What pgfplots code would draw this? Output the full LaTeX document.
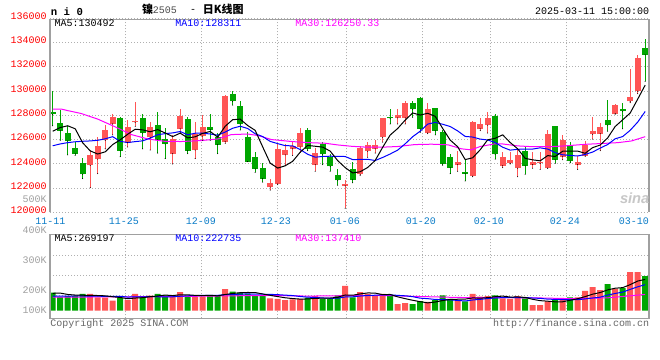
\documentclass[border=0pt]{standalone}
\usepackage{fontspec}
\setmainfont{Liberation Sans}
\newfontfamily\mono{Liberation Mono}
\newfontfamily\cjk{Noto Sans CJK SC}
\usepackage{pgfplots}
\usepackage{pgfplotstable}
\pgfplotsset{compat=1.18}
\definecolor{cred}{HTML}{FF5555}
\definecolor{cgreen}{HTML}{00A600}
\definecolor{gridc}{HTML}{B0B0B0}
\definecolor{framec}{HTML}{A0A0A0}
\definecolor{datec}{HTML}{0A7CC8}
\definecolor{volc}{HTML}{A0A0A0}
\definecolor{mablue}{HTML}{0000FF}
\definecolor{mamag}{HTML}{FF00FF}
\newcommand\sz{\fontsize{7.5pt}{9pt}\selectfont}

\pgfplotstableread{
x O H L C
5 123880 125150 122050 124750
6 124400 126250 123200 125450
7 125950 127200 125250 126800
8 127300 128150 126400 127850
10 125750 127600 125400 127050
11 127420 129100 127100 127520
13 126200 127500 125150 127050
16 124850 126400 124000 126050
17 126900 128500 126600 127950
19 125150 127500 124450 126450
20 126300 128050 125950 127070
23 125850 129650 125700 129600
29 122100 122800 121850 122450
30 122350 125650 122300 125250
31 124750 125650 123900 125150
32 125250 125850 124700 125450
33 125400 127000 124950 126550
35 123950 125300 123400 124900
39 122200 122650 120350 122350
41 123150 125500 123050 125300
42 125050 125800 124550 125550
43 125250 126000 124900 125550
44 126200 127800 125800 127780
46 127800 128500 127300 128000
47 127800 129200 127300 129000
50 126550 129000 126500 128500
54 123950 125100 123400 124150
56 123000 127550 122950 127500
57 126900 127750 126750 127300
58 127200 128250 126550 127800
60 123850 124950 123700 124600
61 124050 124950 124000 124350
62 123650 125350 122950 124700
64 123950 124950 123650 124200
65 124050 125000 123550 124200
66 123650 126800 123650 126500
68 124600 126400 124350 126000
70 123950 124650 123550 124200
71 124650 125900 124650 125600
72 126450 127850 126050 126700
73 126500 127400 125100 127050
75 128150 128980 128100 128900
77 129150 131800 129050 129500
78 130000 133000 129800 132750
}\upT

\pgfplotstableread{
x O H L C
0 128300 130000 127150 128080
1 127350 128450 125950 126750
2 126550 127150 124750 125900
3 125300 125850 124700 124850
4 124050 124500 122800 123150
9 127800 127850 124600 125100
12 127800 128100 125250 126550
14 127200 128250 124900 126000
15 126050 127000 124450 125650
18 127700 127850 124850 125100
21 127070 128100 125950 126830
22 126250 126550 124850 125600
24 129780 130020 128850 129150
25 128800 129200 126800 127300
26 126250 126600 124200 124200
27 124600 124950 123300 123600
28 123700 124100 122500 122800
34 126800 127000 125100 125250
36 125650 125800 123950 124800
37 124550 124850 123400 123800
38 123050 123600 122250 122650
40 123550 124150 122450 122700
45 127900 128500 127300 127750
48 129050 129150 127850 128500
49 129400 129500 126600 126900
51 128600 128650 126400 126750
52 126600 126800 123900 124000
53 124600 124850 123200 123700
55 123350 124300 122600 123200
59 127950 128100 124400 124800
63 125100 125500 123150 123850
67 127100 127100 124050 124350
69 125550 125800 124100 124250
74 127650 129250 126700 127200
76 128550 129050 126900 128350
79 133600 134300 130800 133000
}\downT

\pgfplotsset{sinabase/.style={
  scale only axis, width=449.25pt, anchor=south west,
  xmin=-0.36, xmax=79.51,
  axis line style={draw=none},
  major tick length=0pt,
  scaled y ticks=false,
  grid style={gridc, line width=0.75pt, dash pattern=on 0.75pt off 1.5pt},
  extra x ticks={9.73,19.87,29.91,39.2,49.33,58.4,68.53},
  extra x tick labels={},
  extra x tick style={grid=major},
},
candle/.style={only marks, mark=*, mark size=0.1pt, mark options={draw=none, fill=none}, forget plot,
  error bars/.cd, y dir=plus, y explicit, error mark=none,
  error bar style={#1}}
}

\begin{document}
\begin{tikzpicture}
\useasboundingbox (0,0) rectangle (495pt,270pt);
\fill[white] (0,0) rectangle (495pt,270pt);

% ---------- price panel ----------
\begin{axis}[sinabase, at={(37.5pt,110.625pt)}, height=145.575pt,
  ymin=120000, ymax=136000,
  ytick={120000,122000,124000,126000,128000,130000,132000,134000,136000},
  yticklabels={120000,122000,124000,126000,128000,130000,132000,134000,136000},
  ymajorgrids,
  xtick={-0.3,9.5,19.77,29.77,38.97,49.1,58.17,68.3,77.5},
  xticklabels={11-11,11-25,12-09,12-23,01-06,01-20,02-10,02-24,03-10},
  xticklabel style={font=\mono\sz, text=datec, anchor=north, inner sep=0pt, yshift=-4pt},
  yticklabel style={font=\mono\sz, text=red, anchor=east, inner sep=0pt, xshift=-2.25pt, yshift=1.7pt},
]
% wicks
\addplot[candle={cred, line width=0.75pt}]
  table[x=x, y=L, y error plus expr={\thisrow{H}-\thisrow{L}}] {\upT};
\addplot[candle={cgreen, line width=0.75pt}]
  table[x=x, y=L, y error plus expr={\thisrow{H}-\thisrow{L}}] {\downT};
% bodies
\addplot[candle={cred, line width=4.3pt}]
  table[x=x, y=O, y error plus expr={\thisrow{C}-\thisrow{O}}] {\upT};
\addplot[candle={cgreen, line width=4.3pt}]
  table[x=x, y=C, y error plus expr={\thisrow{O}-\thisrow{C}}] {\downT};
% MA30
\addplot[mamag, line width=0.75pt, mark=none] coordinates {
(0,128520) (1.2,128520) (2,128400) (3.8,128160) (6,127700) (8.3,127070) (10.5,126420)
(12.7,126060) (14.9,125870) (17.1,125850) (19.8,125930) (22,126060) (23.8,126420)
(26,126470) (27.4,126340) (29.2,126010) (31.9,125850) (34,125760) (36.3,125710)
(38,125570) (39.8,125460) (42,125380) (43.8,125380) (46,125440) (48.3,125600)
(50.5,125630) (52.7,125580) (54.5,125250) (55.8,125160) (57,125440) (58.9,125650)
(60,125650) (62,125490) (63.8,125430) (66.5,125430) (68.3,125490) (71,125620)
(73.6,125700) (75.4,125760) (77.2,125900) (79,126250)};
% MA10
\addplot[mablue, line width=0.75pt, mark=none] coordinates {
(0,125500) (1,125650) (2,125760) (3,125830) (4,125870) (5,125900) (6,125950) (7,126075) (8,126250)
(9,125868) (10,125765) (11,125842) (12,125907) (13,126127) (14,126412) (15,126502) (16,126562)
(17,126677) (18,126402) (19,126537) (20,126539) (21,126470) (22,126375) (23,126630) (24,126945)
(25,127110) (26,126925) (27,126490) (28,126260) (29,125860) (30,125678) (31,125510) (32,125495)
(33,125190) (34,124800) (35,124560) (36,124620) (37,124640) (38,124625) (39,124615) (40,124360)
(41,124375) (42,124385) (43,124285) (44,124538) (45,124823) (46,125143) (47,125663) (48,126248)
(49,126703) (50,127283) (51,127428) (52,127273) (53,127088) (54,126725) (55,126270) (56,126220)
(57,126050) (58,125980) (59,125770) (60,125380) (61,125140) (62,125210) (63,125225) (64,125230)
(65,125330) (66,125230) (67,124935) (68,124755) (69,124700) (70,124660) (71,124785) (72,124985)
(73,125305) (74,125605) (75,126075) (76,126260) (77,126775) (78,127450) (79,128325)};
% MA5
\addplot[black, line width=0.75pt, mark=none] coordinates {
(0,126700) (1,127000) (2,127150) (3,126900) (4,125746) (5,125080) (6,124820) (7,125000)
(8,125600) (9,125990) (10,126450) (11,126864) (12,126814) (13,126654) (14,126834) (15,126554)
(16,126260) (17,126540) (18,126150) (19,126240) (20,126524) (21,126680) (22,126210) (23,127110)
(24,127650) (25,127696) (26,127170) (27,126770) (28,125410) (29,124070) (30,123660) (31,123850)
(32,124220) (33,124970) (34,125530) (35,125460) (36,125390) (37,125060) (38,124280) (39,123700)
(40,123260) (41,123360) (42,123710) (43,124290) (44,125376) (45,126386) (46,126926) (47,127616)
(48,128206) (49,128030) (50,128180) (51,127930) (52,126930) (53,125970) (54,125420) (55,124360)
(56,124510) (57,125170) (58,125990) (59,126120) (60,126400) (61,125770) (62,125250) (63,124460)
(64,124340) (65,124260) (66,124690) (67,124620) (68,125050) (69,125060) (70,125060) (71,124880)
(72,125350) (73,125560) (74,126150) (75,127090) (76,127640) (77,128200) (78,129340) (79,130500)};
\end{axis}

% ---------- volume panel ----------
\begin{axis}[sinabase, at={(37.5pt,31.275pt)}, height=63pt,
  ymin=-65.5, ymax=658.6,
  ytick={6,176,431}, yticklabels={100K,200K,300K},
  yticklabel style={font=\mono\sz, text=volc, anchor=east, inner sep=0pt, xshift=-2.25pt},
  xtick=\empty,
  extra y ticks={133,305,480}, extra y tick labels={},
  extra y tick style={grid=major},
]
\addplot[ybar, bar width=4.5pt, bar shift=0pt, fill=cred, draw=none] coordinates {
(5,144) (6,115) (7,112) (8,86) (10,92) (11,144) (13,129) (16,121) (17,161) (19,121) (20,121)
(23,187) (29,106) (30,101) (31,92) (32,98) (33,103) (35,126) (39,213) (41,161) (42,144) (43,126)
(44,144) (46,57) (47,66) (50,75) (54,92) (56,144) (57,121) (58,126) (60,106) (61,103) (62,126)
(64,49) (65,49) (66,80) (68,109) (70,115) (71,170) (72,204) (73,178) (75,187) (77,333) (78,333)};
\addplot[ybar, bar width=4.5pt, bar shift=0pt, fill=cgreen, draw=none] coordinates {
(0,155) (1,117) (2,126) (3,126) (4,144) (9,112) (12,126) (14,144) (15,132) (18,126) (21,135)
(22,135) (24,164) (25,155) (26,144) (27,132) (28,126) (34,112) (36,103) (37,103) (38,132) (40,115)
(45,126) (48,57) (49,83) (51,92) (52,132) (53,103) (55,80) (59,132) (63,106) (67,98) (69,115)
(74,230) (76,195) (79,299)};
\addplot[mamag, line width=0.75pt, mark=none] coordinates {
(0,118) (5,118) (10,120) (15,122) (20,125) (25,129) (29,131.3) (34,125.9) (39,129.5) (44,131.3)
(49,122.2) (54,114) (59,112) (64,111.4) (69,103.9) (74,110.8) (79,140)};
\addplot[mablue, line width=0.75pt, mark=none] coordinates {
(0,125) (1,126) (2,126) (3,127) (4,127) (5,126) (6,125) (7,124) (8,124) (9,123.7) (10,117.4)
(11,120.1) (12,120.1) (13,120.4) (14,120.4) (15,119.2) (16,119.8) (17,124.7) (18,128.7) (19,129.6)
(20,132.5) (21,131.6) (22,132.5) (23,138.3) (24,140.3) (25,142.6) (26,144.9) (27,142) (28,142)
(29,140.5) (30,138.5) (31,134.2) (32,130.5) (33,122.1) (34,116.9) (35,114) (36,109.9) (37,107)
(38,107.6) (39,118.3) (40,119.7) (41,126.6) (42,131.2) (43,133.5) (44,136.7) (45,136.7) (46,132.1)
(47,128.4) (48,120.9) (49,107.9) (50,103.9) (51,97) (52,95.8) (53,93.5) (54,88.3) (55,83.7)
(56,92.4) (57,97.9) (58,104.8) (59,109.7) (60,112.8) (61,113.9) (62,113.3) (63,113.6) (64,109.3)
(65,106.2) (66,99.8) (67,97.5) (68,95.8) (69,94.1) (70,95) (71,101.7) (72,109.5) (73,116.7)
(74,134.8) (75,148.6) (76,160.1) (77,183.6) (78,206) (79,224.4)};
\addplot[black, line width=0.75pt, mark=none] coordinates {
(0,150) (1,152) (2,140) (3,135) (4,133.6) (5,131.4) (6,131) (7,128.2) (8,120.2) (9,113.8)
(10,103.4) (11,109.2) (12,112) (13,120.6) (14,127) (15,135) (16,130.4) (17,137.4) (18,136.8)
(19,132.2) (20,130) (21,132.8) (22,127.6) (23,139.8) (24,148.4) (25,155.2) (26,157) (27,156.4)
(28,144.2) (29,132.6) (30,121.8) (31,111.4) (32,104.6) (33,100) (34,101.2) (35,106.2) (36,108.4)
(37,109.4) (38,115.2) (39,135.4) (40,133.2) (41,144.8) (42,153) (43,151.8) (44,138) (45,140.2)
(46,119.4) (47,103.8) (48,90) (49,77.8) (50,67.6) (51,74.6) (52,87.8) (53,97) (54,98.8)
(55,99.8) (56,110.2) (57,108) (58,112.6) (59,120.6) (60,125.8) (61,117.6) (62,118.6) (63,114.6)
(64,98) (65,86.6) (66,82) (67,76.4) (68,77) (69,90.2) (70,103.4) (71,121.4) (72,142.6)
(73,156.4) (74,179.4) (75,193.8) (76,198.8) (77,224.6) (78,255.6) (79,269.4)};
\end{axis}

% frames
\draw[framec, line width=1.1pt] (37.5pt,110.625pt) -- (37.5pt,255.45pt) -- (486.75pt,255.45pt) -- (486.75pt,110.625pt);
\draw[framec, line width=1.1pt] (37.5pt,31.275pt) rectangle (486.75pt,94.275pt);

% legends
\node[anchor=west, inner sep=0pt, font=\mono\sz] at (40.7pt,252.5pt) {MA5:130492};
\node[anchor=west, inner sep=0pt, font=\mono\sz, text=mablue] at (131.25pt,252.5pt) {MA10:128311};
\node[anchor=west, inner sep=0pt, font=\mono\sz, text=mamag] at (221.25pt,252.5pt) {MA30:126250.33};
\node[anchor=west, inner sep=0pt, font=\mono\sz] at (40.7pt,91.3pt) {MA5:269197};
\node[anchor=west, inner sep=0pt, font=\mono\sz, text=mablue] at (131.25pt,91.3pt) {MA10:222735};
\node[anchor=west, inner sep=0pt, font=\mono\sz, text=mamag] at (221.25pt,91.3pt) {MA30:137410};

% titles
\node[anchor=west, inner sep=0pt, font=\mono\bfseries\fontsize{8pt}{9pt}\selectfont] at (38pt,261pt) {n i 0};
\node[anchor=west, inner sep=0pt, font=\cjk\bfseries\fontsize{8.25pt}{9pt}\selectfont] at (106.3pt,262.7pt) {镍};
\node[anchor=west, inner sep=0pt, font=\mono\sz, text=black!70] at (114.5pt,262.1pt) {2505};
\node[inner sep=0pt, font=\mono\sz] at (144.75pt,262.1pt) {-};
\node[anchor=west, inner sep=0pt, font=\cjk\bfseries\fontsize{8.25pt}{9pt}\selectfont] at (152pt,262.7pt) {日K线图};
\node[anchor=east, inner sep=0pt, font=\mono\sz] at (487pt,261.6pt) {2025-03-11 15:00:00};

% extra axis labels
\node[anchor=east, inner sep=0pt, font=\mono\sz, text=volc] at (35.25pt,96.975pt) {400K};
\node[anchor=east, inner sep=0pt, font=\mono\sz, text=volc] at (35.25pt,120.75pt) {500K};

% footer
\node[anchor=west, inner sep=0pt, font=\mono\sz, text=black!60] at (37.5pt,27.4pt) {Copyright 2025 SINA.COM};
\node[anchor=east, inner sep=0pt, font=\mono\sz, text=black!60] at (487pt,27pt) {http://finance.sina.com.cn};

% watermark
\node[inner sep=0pt, font=\bfseries\itshape\fontsize{11pt}{12pt}\selectfont, text=black!22] at (476pt,121pt) {sina};
\end{tikzpicture}
\end{document}
